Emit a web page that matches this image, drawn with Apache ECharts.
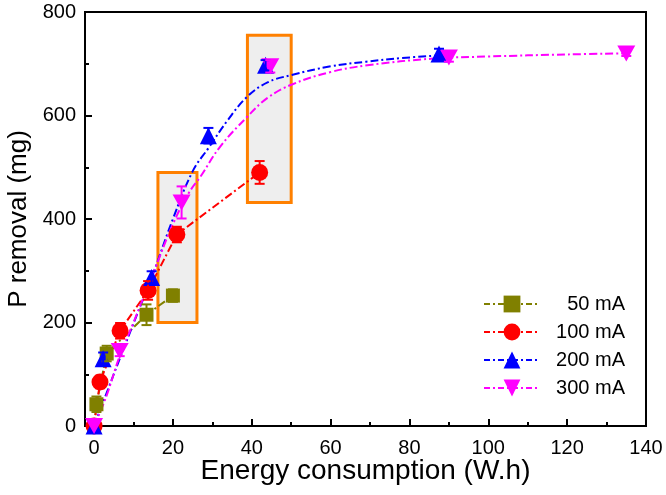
<!DOCTYPE html>
<html><head><meta charset="utf-8">
<script src="https://cdn.jsdelivr.net/npm/echarts@6/dist/echarts.min.js"></script>
<style>html,body{margin:0;padding:0;background:#fff;overflow:hidden}#c{width:666px;height:495px}</style>
</head><body><div id="c"></div>
<script>
// ---- data ----
const names = ['50 mA', '100 mA', '200 mA', '300 mA'];
const x50  = [0, 0.6, 3.2, 13.3, 20.0];
const y50  = [0, 42, 140, 215, 252];
const e50  = [0, 15, 15, 20, 12];
const x100 = [0, 1.5, 6.6, 13.7, 21.0, 42.0];
const y100 = [0, 85, 184, 262, 370, 490];
const e100 = [0, 12, 15, 18, 15, 22];
const x200 = [0, 2.3, 14.6, 29.0, 43.5, 87.5];
const y200 = [0, 130, 287, 561, 697, 719];
const e200 = [0, 12, 12, 15, 10, 10];
const x300 = [0, 6.5, 22.2, 44.7, 90.0, 135.0];
const y300 = [0, 145, 432, 695, 712, 720];
const e300 = [0, 10, 31, 12, 8, 5];
// fitted curves
const fitX200 = [0, 5, 10, 15, 20, 25, 29, 34, 38.8, 44, 50, 60, 69, 78, 87.5];
const fitY200 = [0, 100, 198, 295, 400, 492, 537, 592, 636, 664, 678, 695, 704, 711, 716];
const fitX300 = [0, 3, 6.5, 10, 15, 20, 24, 27, 32, 38.8, 44, 50.2, 60, 69.3, 86, 100, 120, 135];
const fitY300 = [0, 55, 135, 200, 295, 390, 450, 482, 540, 597, 634, 660, 684, 697, 710, 714, 718, 720];
const boxes = [[16.2, 200, 26.1, 490], [38.9, 432, 50.0, 755]];
// ---------------------------------------
const colors = ['#808000', '#ff0000', '#0000ff', '#ff00ff'];
const symbols = ['rect', 'circle', 'triangle', 'path://M0,0 L10,0 L5,9 Z'];
const sizes = [14, 17, 17, [18, 16]];
const xs = [x50, x100, x200, x300], ys = [y50, y100, y200, y300], es = [e50, e100, e200, e300];
const fx = [x50, x100, fitX200, fitX300], fy = [y50, y100, fitY200, fitY300];
const smooths = [false, false, 0.4, 0.4];
const dash = [8, 3, 2, 3];
const font = 'Liberation Sans, Arial, sans-serif';

const XMIN = -2.3, XMAX = 140;
const G_LEFT = 85, G_RIGHT = 20, W = 666;
const plotW = W - G_LEFT - G_RIGHT;
const zeroPx = G_LEFT + (0 - XMIN) / (XMAX - XMIN) * plotW;

const chart = echarts.init(document.getElementById('c'), null, { width: 666, height: 495 });
const series = [];
series.push({
  type: 'line', data: [], z: 1, silent: true,
  markArea: {
    silent: true,
    itemStyle: { color: '#eeeeee', borderColor: '#ff8000', borderWidth: 3 },
    data: boxes.map(b => [{ coord: [b[0], b[1]] }, { coord: [b[2], b[3]] }])
  }
});
names.forEach((n, i) => {
  series.push({
    type: 'line', z: 2, silent: true, showSymbol: false, smooth: smooths[i],
    data: fx[i].map((x, j) => [x, fy[i][j]]),
    lineStyle: { color: colors[i], width: 2, type: dash }
  });
  series.push({
    name: n, type: 'line', z: 3,
    data: xs[i].map((x, j) => [x, ys[i][j]]),
    symbol: symbols[i], symbolSize: sizes[i],
    itemStyle: { color: colors[i] },
    lineStyle: { color: colors[i], width: 2, type: dash, opacity: 0 }
  });
  series.push({
    type: 'custom', z: 4, silent: true,
    data: xs[i].map((x, j) => [x, ys[i][j], es[i][j]]),
    renderItem: function (params, api) {
      const x = api.value(0), y = api.value(1), e = api.value(2);
      if (!e) return;
      const top = api.coord([x, y + e]), bot = api.coord([x, y - e]);
      const w = 5;
      const st = { stroke: colors[i], lineWidth: 2 };
      return { type: 'group', children: [
        { type: 'line', shape: { x1: top[0], y1: top[1], x2: bot[0], y2: bot[1] }, style: st },
        { type: 'line', shape: { x1: top[0] - w, y1: top[1], x2: top[0] + w, y2: top[1] }, style: st },
        { type: 'line', shape: { x1: bot[0] - w, y1: bot[1], x2: bot[0] + w, y2: bot[1] }, style: st }
      ]};
    }
  });
});

chart.setOption({
  animation: false,
  backgroundColor: '#fff',
  grid: [
    { left: G_LEFT, right: G_RIGHT, top: 12, bottom: 69, outerBoundsMode: 'none', containLabel: false,
      show: true, borderColor: '#000', borderWidth: 2, backgroundColor: 'transparent' },
    { left: zeroPx, right: G_RIGHT, top: 12, bottom: 69, outerBoundsMode: 'none', containLabel: false, show: false }
  ],
  legend: {
    data: names.map((n, i) => ({ name: n, lineStyle: { color: colors[i], width: 2, type: [6, 3, 2, 3], opacity: 1 } })),
    orient: 'vertical', right: 36, top: 289, itemGap: 8, itemWidth: 56, itemHeight: 21,
    formatter: n => '{r|' + n + '}',
    textStyle: { fontFamily: font, fontSize: 20, color: '#000', rich: { r: { width: 80, align: 'right', fontFamily: font, fontSize: 20, color: '#000' } } }
  },
  xAxis: [{
    type: 'value', min: XMIN, max: XMAX, gridIndex: 0,
    name: 'Energy consumption (W.h)', nameLocation: 'middle', nameGap: 31,
    nameTextStyle: { fontFamily: font, fontSize: 28, color: '#000' },
    axisLine: { onZero: false, lineStyle: { color: '#000', width: 2 } },
    axisTick: { show: false }, axisLabel: { show: false },
    splitLine: { show: false }
  }, {
    type: 'value', min: 0, max: 140, interval: 20, gridIndex: 1,
    axisLine: { show: false, onZero: false },
    axisTick: { inside: true, length: 7, lineStyle: { color: '#000', width: 2 } },
    minorTick: { show: true, splitNumber: 2, length: 4, lineStyle: { color: '#000', width: 2 } },
    axisLabel: { fontFamily: font, fontSize: 20, color: '#000', margin: 12 },
    splitLine: { show: false }, minorSplitLine: { show: false }
  }],
  yAxis: [{
    type: 'value', min: 0, max: 800, interval: 200, gridIndex: 0,
    name: 'P removal (mg)', nameLocation: 'middle', nameGap: 50,
    nameTextStyle: { fontFamily: font, fontSize: 26, color: '#000' },
    axisLine: { show: true, onZero: false, lineStyle: { color: '#000', width: 2 } },
    axisTick: { inside: true, length: 7, lineStyle: { color: '#000', width: 2 } },
    minorTick: { show: true, splitNumber: 2, length: 4, lineStyle: { color: '#000', width: 2 } },
    axisLabel: { fontFamily: font, fontSize: 20, color: '#000', margin: 9 },
    splitLine: { show: false }, minorSplitLine: { show: false }
  }, {
    type: 'value', min: 0, max: 800, gridIndex: 1, show: false
  }],
  series: series
});
</script></body></html>
